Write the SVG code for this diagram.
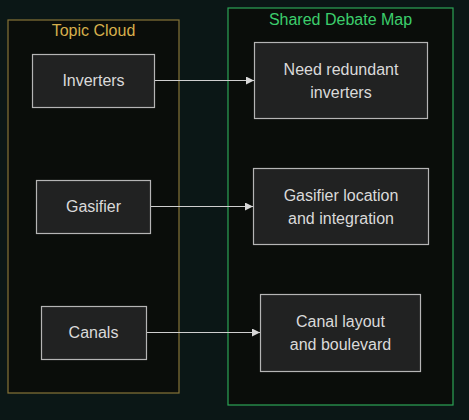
<svg xmlns="http://www.w3.org/2000/svg" width="469" height="420" viewBox="0 0 469 420">
<defs>
<style>
.bg{fill:#0b1716}
.node rect{fill:#212222;stroke:#b5b5b5;stroke-width:1.2}
.node text{fill:#dadada;font-family:"Liberation Sans",Arial,sans-serif;font-size:16px;text-anchor:middle}
.title{font-family:"Liberation Sans",Arial,sans-serif;font-size:16px;text-anchor:middle}
.edge{stroke:#cfcfcf;stroke-width:1;fill:none}
</style>
<marker id="arr" viewBox="0 0 10 10" refX="10" refY="5" markerWidth="8" markerHeight="8" markerUnits="userSpaceOnUse" orient="auto">
<path d="M0,0 L10,5 L0,10 z" fill="#d8d8d8"/>
</marker>
</defs>
<rect class="bg" x="0" y="0" width="469" height="420"/>
<g id="cluster-topic">
<rect x="8" y="20" width="171" height="373" fill="#0a0d0a" stroke="#857338" stroke-width="1.2"/>
<text class="title" x="93.5" y="36" fill="#d6af4c">Topic Cloud</text>
</g>
<g id="cluster-shared">
<rect x="228" y="8" width="225" height="397" fill="#0a0d0a" stroke="#2ca456" stroke-width="1.2"/>
<text class="title" x="340.5" y="25" fill="#3ccd6c">Shared Debate Map</text>
</g>
<g id="connectors">
<path class="edge" d="M154,80.5 H254" marker-end="url(#arr)"/>
<path class="edge" d="M151,206.5 H253" marker-end="url(#arr)"/>
<path class="edge" d="M146,332.5 H260" marker-end="url(#arr)"/>
</g>
<g id="inverters" class="node">
<rect x="32.5" y="54.5" width="122" height="53"/>
<text x="93.5" y="86">Inverters</text>
</g>
<g id="gasifier" class="node">
<rect x="36.5" y="180.5" width="114" height="53"/>
<text x="93.5" y="212">Gasifier</text>
</g>
<g id="canals" class="node">
<rect x="41.5" y="306.5" width="105" height="53"/>
<text x="93.5" y="338">Canals</text>
</g>
<g id="need-redundant" class="node">
<rect x="254.5" y="42.5" width="173" height="76"/>
<text x="341" y="74.5">Need redundant</text>
<text x="341" y="97.5">inverters</text>
</g>
<g id="gasifier-location" class="node">
<rect x="253.5" y="168.5" width="175" height="76"/>
<text x="341" y="200.5">Gasifier location</text>
<text x="341" y="223.5">and integration</text>
</g>
<g id="canal-layout" class="node">
<rect x="260.5" y="294.5" width="160" height="77"/>
<text x="340.5" y="326.5">Canal layout</text>
<text x="340.5" y="349.5">and boulevard</text>
</g>
</svg>
